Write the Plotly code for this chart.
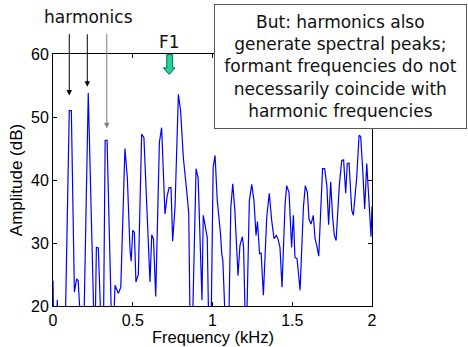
import plotly.graph_objects as go

# ---- data ----
freq_khz = [0.000, 0.006, 0.020, 0.027, 0.034, 0.072, 0.102, 0.115, 0.134, 0.148, 0.158, 0.180,
            0.190, 0.221, 0.262, 0.272, 0.284, 0.305, 0.315, 0.327, 0.339, 0.370, 0.380, 0.389,
            0.410, 0.425, 0.451, 0.466, 0.483, 0.490, 0.500, 0.510, 0.520, 0.535, 0.556, 0.570,
            0.608, 0.619, 0.630, 0.644, 0.667, 0.681, 0.702, 0.716, 0.728, 0.740, 0.750, 0.765,
            0.786, 0.800, 0.817, 0.834, 0.845, 0.851, 0.862, 0.872, 0.897, 0.910, 0.934, 0.942,
            0.967, 0.978, 0.990, 1.004, 1.016, 1.030, 1.043, 1.050, 1.058, 1.065, 1.088, 1.100,
            1.115, 1.127, 1.140, 1.160, 1.172, 1.187, 1.195, 1.210, 1.231, 1.246, 1.260, 1.273,
            1.282, 1.295, 1.305, 1.319, 1.340, 1.356, 1.371, 1.386, 1.400, 1.410, 1.423, 1.436,
            1.455, 1.465, 1.480, 1.496, 1.507, 1.517, 1.530, 1.549, 1.570, 1.582, 1.595, 1.605,
            1.618, 1.632, 1.643, 1.654, 1.666, 1.690, 1.703, 1.717, 1.728, 1.741, 1.753, 1.764,
            1.775, 1.795, 1.810, 1.822, 1.835, 1.845, 1.856, 1.873, 1.883, 1.904, 1.919, 1.929,
            1.942, 1.954, 1.967, 1.981, 1.994, 2.000]
amp_db = [24.0, 14.0, 15.0, 21.0, 14.0, 10.0, 51.0, 51.0, 22.2, 24.3, 24.0, 14.0,
          12.0, 53.8, 12.0, 29.3, 29.2, 14.0, 12.0, 46.3, 46.3, 14.0, 17.0, 23.3,
          22.0, 23.0, 45.0, 40.4, 28.8, 27.1, 32.0, 31.7, 23.8, 25.0, 47.3, 46.7,
          23.8, 31.3, 30.6, 21.5, 46.0, 48.3, 34.6, 37.5, 38.8, 38.8, 30.3, 35.7,
          53.6, 51.0, 43.6, 39.9, 36.5, 34.6, 12.0, 14.0, 41.8, 40.3, 20.9, 34.4,
          30.9, 14.0, 14.0, 42.0, 43.9, 36.7, 33.6, 31.5, 28.3, 27.2, 12.0, 14.0,
          35.7, 39.4, 35.2, 24.8, 29.6, 31.0, 29.3, 12.0, 36.7, 39.3, 36.7, 31.2,
          33.4, 28.3, 28.4, 21.7, 34.1, 37.9, 33.6, 30.7, 31.2, 30.7, 29.3, 23.0,
          36.2, 39.1, 38.0, 29.3, 34.4, 27.7, 27.5, 22.5, 35.7, 39.1, 38.0, 33.8,
          33.0, 34.4, 30.7, 29.6, 27.9, 41.8, 41.8, 39.1, 32.9, 39.7, 34.1, 31.2,
          30.4, 39.1, 43.1, 43.2, 37.9, 42.6, 42.7, 35.2, 34.4, 40.4, 47.1, 46.9,
          41.5, 35.4, 42.6, 36.2, 31.0, 35.8]

x_ticks = [0, 0.5, 1, 1.5, 2]
x_tick_text = ["0", "0.5", "1", "1.5", "2"]
y_ticks = [20, 30, 40, 50, 60]

# harmonic arrow tips (kHz, dB) and pixel tail offsets
harm_x = [0.102, 0.215, 0.337]
harm_y = [53.4, 54.8, 48.2]
harm_ay = [-63, -54, -96]
harm_col = ["#000000", "#000000", "#808080"]

note_text = ("But: harmonics also<br>generate spectral peaks;<br>formant frequencies do not"
             "<br>necessarily coincide with<br>harmonic frequencies")

W, H = 468, 347
ML, MR, MT, MB = 53, 96, 54, 41
PW, PH = W - ML - MR, H - MT - MB

fig = go.Figure()
fig.add_trace(go.Scatter(x=freq_khz, y=amp_db, mode="lines",
                         line=dict(color="#0000ff", width=1.2), showlegend=False))

axis_font = dict(family="Liberation Sans, Arial, sans-serif", size=16, color="#000")
fig.update_layout(
    width=W, height=H, margin=dict(l=ML, r=MR, t=MT, b=MB, autoexpand=False),
    paper_bgcolor="white", plot_bgcolor="white",
    font=axis_font,
    xaxis=dict(range=[0, 2], tickvals=x_ticks, ticktext=x_tick_text, ticks="inside", ticklen=4,
               tickcolor="#000", showline=True, linecolor="#000", linewidth=1, mirror="ticks",
               showgrid=False, zeroline=False, tickfont=axis_font, automargin=False),
    yaxis=dict(range=[20, 60], tickvals=y_ticks, ticks="inside", ticklen=4,
               tickcolor="#000", showline=True, linecolor="#000", linewidth=1, mirror="ticks",
               showgrid=False, zeroline=False, tickfont=axis_font, automargin=False,
               title=dict(text="Amplitude (dB)", font=dict(size=17), standoff=4)),
)

# x-axis title, sitting on the bottom edge of the page
fig.add_annotation(x=0.5, y=-MB / PH, xref="paper", yref="paper",
                   text="Frequency (kHz)", showarrow=False, borderpad=0,
                   font=dict(family="Liberation Sans, Arial, sans-serif", size=16.5, color="#000"),
                   xanchor="center", yanchor="bottom")

note_font = dict(family="DejaVu Sans, Verdana, sans-serif", size=17, color="#111")

# harmonics label and arrows
fig.add_annotation(x=(88 - ML) / PW, y=(H - MB - 17) / PH, xref="paper", yref="paper",
                   text="harmonics", showarrow=False, font=note_font,
                   xanchor="center", yanchor="middle")
for hx, hy, hay, hc in zip(harm_x, harm_y, harm_ay, harm_col):
    fig.add_annotation(x=hx, y=hy, xref="x", yref="y", text="", showarrow=True,
                       ax=0, ay=hay, arrowhead=2, arrowsize=1.1, arrowwidth=1, arrowcolor=hc)

# F1 label and block arrow
fig.add_annotation(x=0.733, y=(H - MB - 42) / PH, xref="x", yref="paper", text="F1",
                   showarrow=False, font=note_font, xanchor="center", yanchor="middle")
fig.add_shape(type="path", xref="x", yref="y",
              path="M 0.713,59.9 L 0.750,59.9 L 0.750,57.8 L 0.765,57.8 L 0.729,56.75 "
                   "L 0.692,57.8 L 0.713,57.8 Z",
              fillcolor="#22d39c", line=dict(color="#0a6a4a", width=1), layer="above")

# note box
fig.add_annotation(x=(214 - ML) / PW, y=(H - MB - 4) / PH, xref="paper", yref="paper",
                   xanchor="left", yanchor="top", text=note_text, showarrow=False,
                   font=note_font, align="center", bgcolor="white",
                   bordercolor="#555", borderwidth=1, borderpad=1, width=249, height=121)

fig.write_html("out.html")
